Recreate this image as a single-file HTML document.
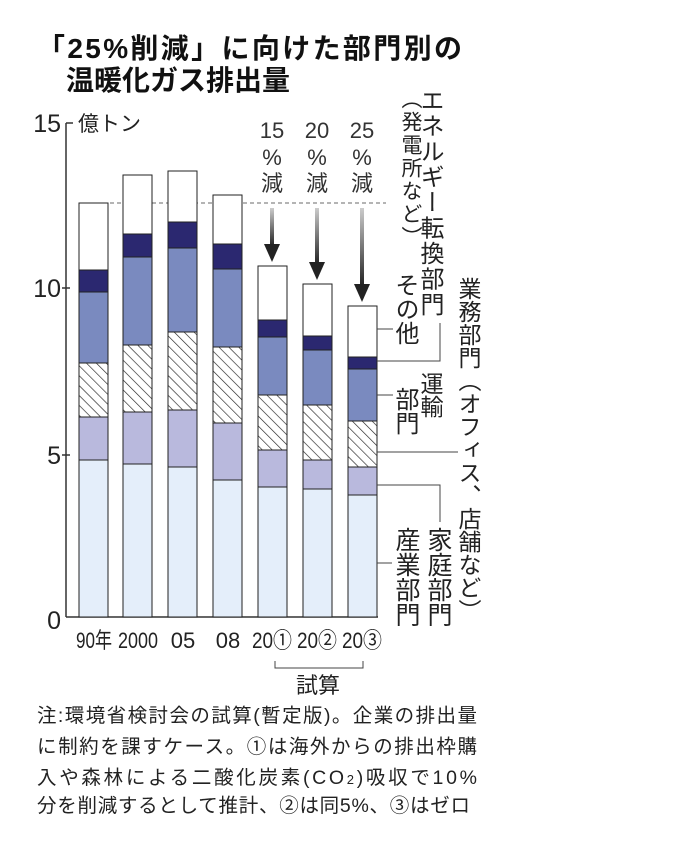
<!DOCTYPE html>
<html><head><meta charset="utf-8"><style>
body{margin:0;background:#fff;}
#w{position:relative;width:680px;height:849px;overflow:hidden;font-family:"Liberation Sans","Noto Sans CJK JP",sans-serif;color:#222;}
svg{position:absolute;left:0;top:0;}
.v{position:absolute;writing-mode:vertical-rl;font-family:"Noto Sans CJK JP",sans-serif;line-height:1;white-space:nowrap;color:#222;}
</style></head><body><div id="w">
<svg width="680" height="849" viewBox="0 0 680 849" font-family="Liberation Sans, Noto Sans CJK JP, sans-serif">
<defs>
<pattern id="h" patternUnits="userSpaceOnUse" width="7" height="7" patternTransform="rotate(-45)">
<rect width="7" height="7" fill="#fff"/><line x1="0" y1="0" x2="0" y2="7" stroke="#222" stroke-width="1.3"/>
</pattern>
<linearGradient id="ag" x1="0" y1="0" x2="0" y2="1"><stop offset="0" stop-color="#ccc"/><stop offset="1" stop-color="#222"/></linearGradient>
</defs>
<text x="37" y="58" font-size="28" font-weight="bold" fill="#111" textLength="425">「25%削減」に向けた部門別の</text>
<text x="66" y="90" font-size="28" font-weight="bold" fill="#111">温暖化ガス排出量</text>
<line x1="66" y1="123" x2="66" y2="617" stroke="#333" stroke-width="1.5"/>
<line x1="66" y1="617" x2="378" y2="617" stroke="#333" stroke-width="1.5"/>
<g stroke="#333" stroke-width="1.5"><line x1="66" y1="123" x2="73" y2="123"/><line x1="62" y1="288" x2="70" y2="288"/><line x1="62" y1="455" x2="70" y2="455"/></g>
<g font-size="25" fill="#222" text-anchor="end"><text x="61" y="132">15</text><text x="61" y="297">10</text><text x="61" y="464">5</text><text x="61" y="629">0</text></g>
<text x="78" y="131" font-size="21" fill="#222">億トン</text>
<line x1="110" y1="203" x2="386" y2="203" stroke="#888" stroke-width="1.2" stroke-dasharray="4,3"/>
<g stroke="#222" stroke-width="1">
<rect x="79" y="203" width="29" height="67" fill="#fff"/><rect x="79" y="270" width="29" height="22" fill="#2b2870"/><rect x="79" y="292" width="29" height="71" fill="#7a8abf"/><rect x="79" y="363" width="29" height="54" fill="url(#h)"/><rect x="79" y="417" width="29" height="43" fill="#b9b9dd"/><rect x="79" y="460" width="29" height="157" fill="#e4eefa"/>
<rect x="123" y="175" width="29" height="59" fill="#fff"/><rect x="123" y="234" width="29" height="23" fill="#2b2870"/><rect x="123" y="257" width="29" height="88" fill="#7a8abf"/><rect x="123" y="345" width="29" height="67" fill="url(#h)"/><rect x="123" y="412" width="29" height="52" fill="#b9b9dd"/><rect x="123" y="464" width="29" height="153" fill="#e4eefa"/>
<rect x="168" y="171" width="29" height="51" fill="#fff"/><rect x="168" y="222" width="29" height="26" fill="#2b2870"/><rect x="168" y="248" width="29" height="84" fill="#7a8abf"/><rect x="168" y="332" width="29" height="78" fill="url(#h)"/><rect x="168" y="410" width="29" height="57" fill="#b9b9dd"/><rect x="168" y="467" width="29" height="150" fill="#e4eefa"/>
<rect x="213" y="195" width="29" height="49" fill="#fff"/><rect x="213" y="244" width="29" height="25" fill="#2b2870"/><rect x="213" y="269" width="29" height="78" fill="#7a8abf"/><rect x="213" y="347" width="29" height="76" fill="url(#h)"/><rect x="213" y="423" width="29" height="57" fill="#b9b9dd"/><rect x="213" y="480" width="29" height="137" fill="#e4eefa"/>
<rect x="258" y="266" width="29" height="54" fill="#fff"/><rect x="258" y="320" width="29" height="17" fill="#2b2870"/><rect x="258" y="337" width="29" height="58" fill="#7a8abf"/><rect x="258" y="395" width="29" height="55" fill="url(#h)"/><rect x="258" y="450" width="29" height="37" fill="#b9b9dd"/><rect x="258" y="487" width="29" height="130" fill="#e4eefa"/>
<rect x="303" y="284" width="29" height="52" fill="#fff"/><rect x="303" y="336" width="29" height="14" fill="#2b2870"/><rect x="303" y="350" width="29" height="55" fill="#7a8abf"/><rect x="303" y="405" width="29" height="55" fill="url(#h)"/><rect x="303" y="460" width="29" height="29" fill="#b9b9dd"/><rect x="303" y="489" width="29" height="128" fill="#e4eefa"/>
<rect x="348" y="306" width="29" height="51" fill="#fff"/><rect x="348" y="357" width="29" height="12" fill="#2b2870"/><rect x="348" y="369" width="29" height="52" fill="#7a8abf"/><rect x="348" y="421" width="29" height="46" fill="url(#h)"/><rect x="348" y="467" width="29" height="28" fill="#b9b9dd"/><rect x="348" y="495" width="29" height="122" fill="#e4eefa"/>
</g>
<g fill="url(#ag)"><rect x="270" y="208" width="4" height="38"/><rect x="315" y="208" width="4" height="56"/><rect x="360" y="208" width="4" height="78"/></g>
<g fill="#222"><polygon points="264,244 280,244 272,262"/><polygon points="309,262 325,262 317,280"/><polygon points="354,284 370,284 362,302"/></g>
<g font-size="22" fill="#333" text-anchor="middle">
<text x="272" y="138">15</text><text x="272" y="165">%</text><text x="272" y="191">減</text>
<text x="317" y="138">20</text><text x="317" y="165">%</text><text x="317" y="191">減</text>
<text x="362" y="138">25</text><text x="362" y="165">%</text><text x="362" y="191">減</text>
</g>
<g stroke="#444" stroke-width="1" fill="none">
<polyline points="377,329 393,329"/>
<polyline points="377,361 440,361 440,323"/>
<polyline points="377,395 393,395"/>
<polyline points="377,452 458,452"/>
<polyline points="377,485 440,485 440,522"/>
<polyline points="377,563 392,563"/>
<polyline points="275,661 275,668 363,668 363,661"/>
</g>
<g font-size="22" fill="#222" text-anchor="middle" lengthAdjust="spacingAndGlyphs">
<text x="94" y="648" textLength="36" lengthAdjust="spacingAndGlyphs">90年</text><text x="138" y="648" textLength="40" lengthAdjust="spacingAndGlyphs">2000</text><text x="183" y="648">05</text><text x="228" y="648">08</text><text x="272" y="648" textLength="40" lengthAdjust="spacingAndGlyphs">20①</text><text x="317" y="648" textLength="40" lengthAdjust="spacingAndGlyphs">20②</text><text x="362" y="648" textLength="40" lengthAdjust="spacingAndGlyphs">20③</text>
<text x="318" y="693">試算</text>
</g>
<g font-size="19.5" fill="#222">
<text x="37" y="722" textLength="440">注:環境省検討会の試算(暫定版)。企業の排出量</text>
<text x="37" y="753" textLength="440">に制約を課すケース。①は海外からの排出枠購</text>
<text x="37" y="784" textLength="440">入や森林による二酸化炭素(CO<tspan font-size="13">2</tspan>)吸収で10%</text>
<text x="37" y="812" textLength="433">分を削減するとして推計、②は同5%、③はゼロ</text>
</g>
</svg>
<div class="v" style="left:420px;top:88px;font-size:24px;letter-spacing:1.5px;">エネルギー転換部門</div>
<div class="v" style="left:401px;top:88px;font-size:21px;letter-spacing:2px;">（発電所など）</div>
<div class="v" style="left:395px;top:273px;font-size:24px;">その他</div>
<div class="v" style="left:458px;top:277px;font-size:23px;">業務部門（オフィス、店舗など）</div>
<div class="v" style="left:420px;top:372px;font-size:23px;">運輸</div>
<div class="v" style="left:395px;top:387px;font-size:24px;">部門</div>
<div class="v" style="left:427px;top:527px;font-size:25px;">家庭部門</div>
<div class="v" style="left:395px;top:527px;font-size:25px;">産業部門</div>
</div></body></html>
